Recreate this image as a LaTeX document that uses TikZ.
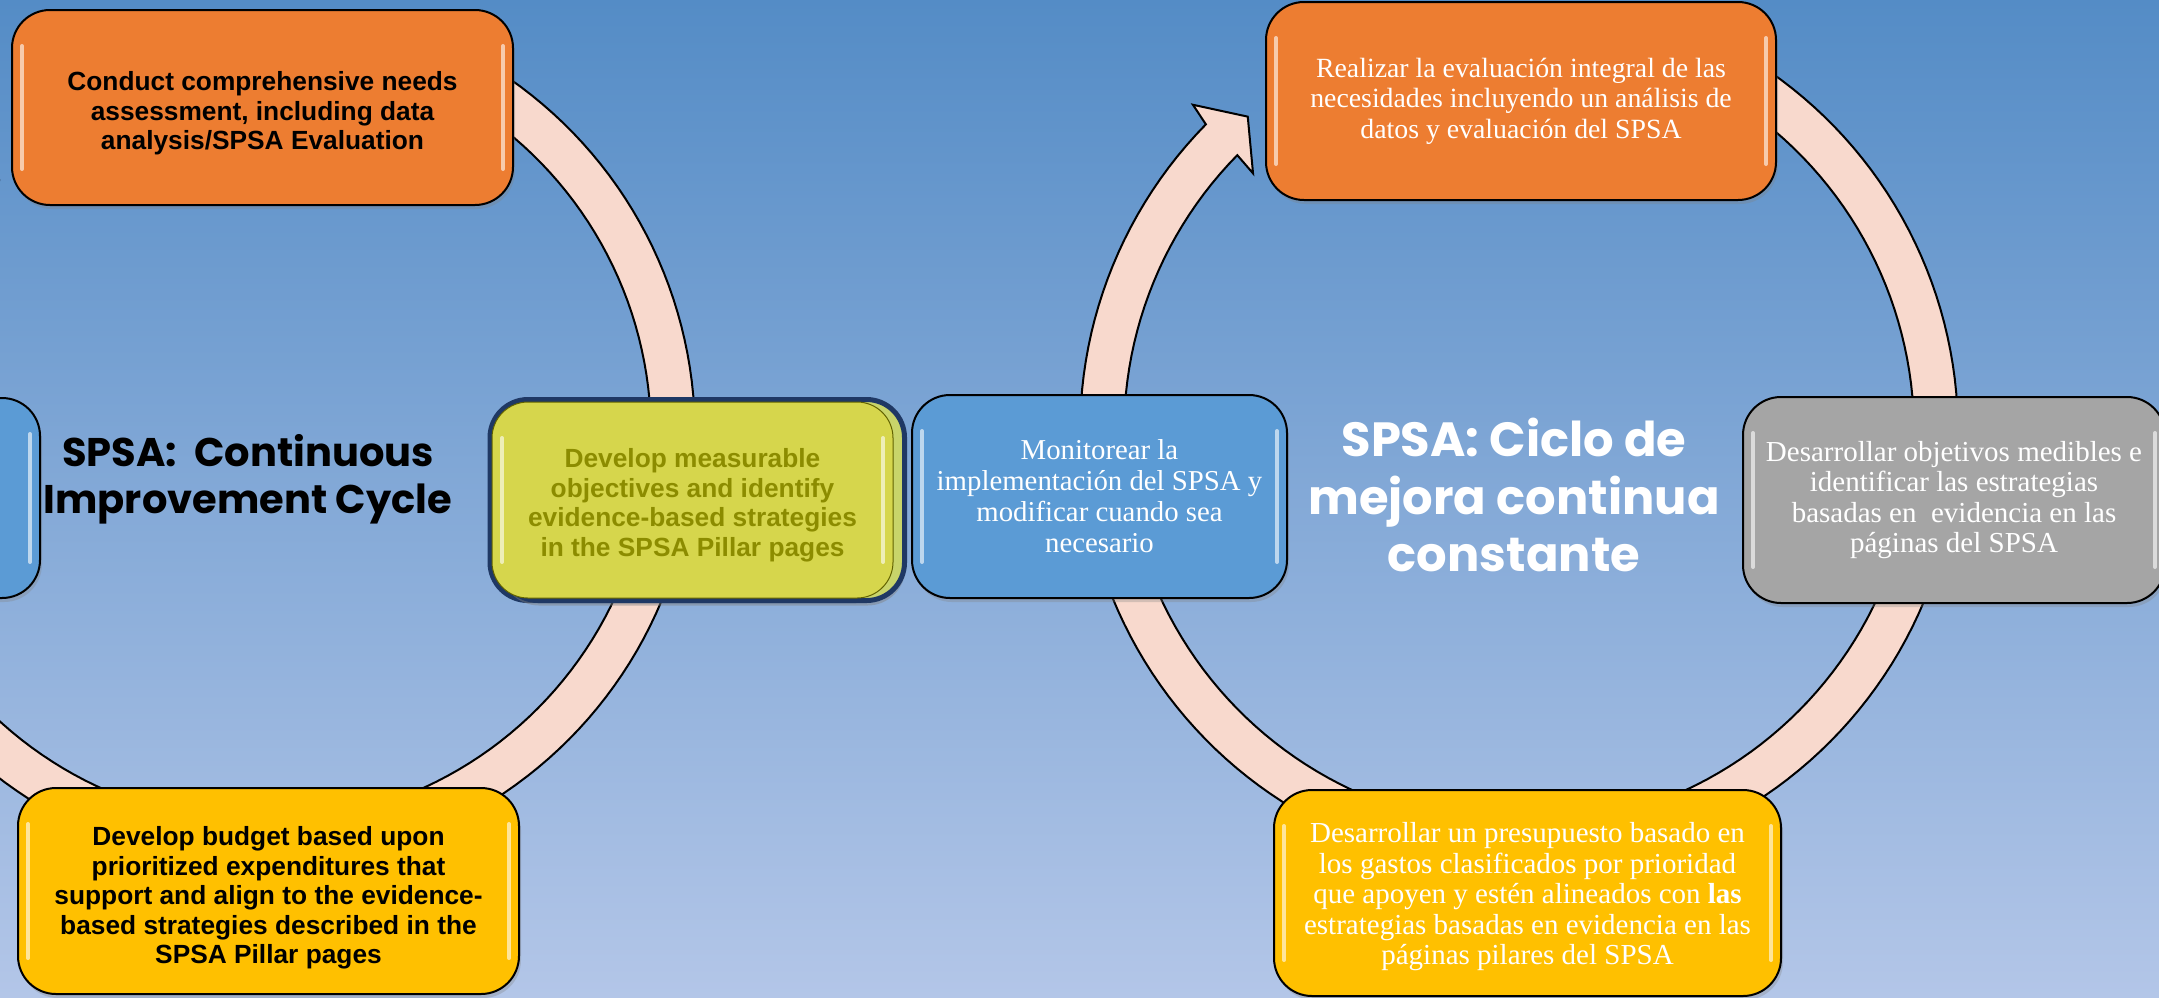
\documentclass[tikz,border=0pt]{standalone}
\usepackage{fontspec}
\newfontfamily\arialf{Liberation Sans}
\newfontfamily\timesf{Liberation Serif}
\newfontfamily\popf{Poppins}
\usetikzlibrary{shadows,calc}
\definecolor{bgtop}{HTML}{548CC6}
\definecolor{bgbot}{HTML}{B3C6E8}
\definecolor{ringc}{HTML}{F8D9CD}
\definecolor{orangec}{HTML}{ED7D31}
\definecolor{goldc}{HTML}{FFC000}
\definecolor{bluec}{HTML}{5B9BD5}
\definecolor{grayc}{HTML}{A5A5A5}
\definecolor{olivefront}{HTML}{D6D64C}
\definecolor{oliveback}{HTML}{C8D46A}
\definecolor{olivetext}{HTML}{8C8C00}
\definecolor{navyc}{HTML}{1F3864}
\tikzset{
  ringstyle/.style={fill=ringc, draw=black, line width=2pt, line join=miter},
  gloss/.style={path picture={
      \draw[white, line width=4pt, opacity=0.6, line cap=round]
        ([xshift=10pt,yshift=-36pt]path picture bounding box.north west) --
        ([xshift=10pt,yshift=36pt]path picture bounding box.south west);
      \draw[white, line width=4pt, opacity=0.6, line cap=round]
        ([xshift=-10pt,yshift=-36pt]path picture bounding box.north east) --
        ([xshift=-10pt,yshift=36pt]path picture bounding box.south east);
  }},
  boxstyle/.style={draw=black, line width=2pt, rounded corners=38pt, align=center,
      inner sep=0pt, gloss,
      drop shadow={opacity=0.3, shadow xshift=2pt, shadow yshift=-4pt}},
  entext/.style={font=\arialf\bfseries\fontsize{26.3}{29.5}\selectfont, align=center, inner sep=0pt},
  estext/.style={text=white},
}
\newcommand{\esfont}[2]{\timesf\fontsize{#1}{#2}\selectfont}
\begin{document}
\begin{tikzpicture}[x=1pt,y=-1pt]
\useasboundingbox (0,0) rectangle (2159,997);
\clip (0,0) rectangle (2159,997);
\shade[top color=bgtop, bottom color=bgbot] (0,0) rectangle (2159,997);

% ---------- left ring ----------
\filldraw[ringstyle]
  plot[domain=-70:224.5, samples=160] ({262+433*cos(\x)},{434+433*sin(\x)})
  -- ({262+455*cos(225.1)},{434+455*sin(225.1)})
  -- ({262+411*cos(229.3)},{434+411*sin(229.3)})
  -- ({262+367*cos(224.2)},{434+367*sin(224.2)})
  -- plot[domain=224.5:-70, samples=160] ({262+389*cos(\x)},{434+389*sin(\x)})
  -- cycle;

% ---------- right ring ----------
\filldraw[ringstyle]
  plot[domain=-70:224.5, samples=160] ({1519+439*cos(\x)},{432+439*sin(\x)})
  -- ({1519+462*cos(225.1)},{432+462*sin(225.1)})
  -- ({1519+416*cos(229.3)},{432+416*sin(229.3)})
  -- ({1519+371*cos(224.2)},{432+371*sin(224.2)})
  -- plot[domain=224.5:-70, samples=160] ({1519+395*cos(\x)},{432+395*sin(\x)})
  -- cycle;

% ---------- left cycle boxes ----------
\node[boxstyle, fill=orangec, minimum width=501pt, minimum height=195pt,
  label={[entext, yshift=-6pt]center:{Conduct comprehensive needs\\assessment, including data\\analysis/SPSA Evaluation}}]
  (lt) at (262.5,107.5) {};

\node[boxstyle, fill=bluec, minimum width=400pt, minimum height=200pt]
  (ll) at (-160,498) {};

\node[boxstyle, fill=goldc, minimum width=501pt, minimum height=206pt,
  label={[entext, yshift=-7pt]center:{Develop budget based upon\\prioritized expenditures that\\support and align to the evidence-\\based strategies described in the\\SPSA Pillar pages}}]
  (lb) at (268.5,891) {};

% olive box with offset copy and navy frame
\draw[navyc, line width=5pt, rounded corners=38pt] (490,399.5) rectangle (894,600.5);
\draw[navyc, line width=5pt, rounded corners=38pt, fill=oliveback,
      drop shadow={opacity=0.45, shadow xshift=1pt, shadow yshift=-5pt}] (500,399.5) rectangle (904.5,600.5);
\node[draw=olivetext!70!black, line width=1pt, rounded corners=36pt, fill=olivefront, gloss,
      inner sep=0pt, minimum width=401pt, minimum height=196pt,
      label={[entext, text=olivetext, yshift=-5pt]center:{Develop measurable\\objectives and identify\\evidence-based strategies\\in the SPSA Pillar pages}}]
  (ly) at (692.5,500) {};

\node[font=\popf\bfseries\fontsize{40}{47}\selectfont, align=center, text=black]
  (ltitle) at (248,479) {SPSA:\ \ Continuous\\Improvement Cycle};

% ---------- right cycle boxes ----------
\node[boxstyle, fill=orangec, estext, font=\esfont{27.8}{30.5}, minimum width=510pt, minimum height=198pt]
  (rt) at (1521,101) {Realizar la evaluación integral de las\\necesidades incluyendo un análisis de\\datos y evaluación del SPSA};

\node[boxstyle, fill=bluec, estext, font=\esfont{28.8}{31}, minimum width=375pt, minimum height=203pt]
  (rm) at (1099.5,496.5) {Monitorear la\\implementación del SPSA y\\modificar cuando sea\\necesario};

\node[boxstyle, fill=grayc, estext, font=\esfont{29}{30.5}, minimum width=422pt, minimum height=206pt]
  (rg) at (1954,500) {Desarrollar objetivos medibles e\\identificar las estrategias\\basadas en\ \ evidencia en las\\páginas del SPSA};

\node[boxstyle, fill=goldc, minimum width=507pt, minimum height=206pt,
  label={[text=white, font=\esfont{29}{30.5}, align=center, inner sep=0pt, yshift=-4pt]center:{Desarrollar un presupuesto basado en\\los gastos clasificados por prioridad\\que apoyen y estén alineados con \textbf{las}\\estrategias basadas en evidencia en las\\páginas pilares del SPSA}}]
  (rb) at (1527.5,893) {};

\node[font=\popf\bfseries\fontsize{48}{57.5}\selectfont, align=center, text=white]
  (rtitle) at (1514,495) {SPSA: Ciclo de\\mejora continua\\constante};
\end{tikzpicture}
\end{document}
